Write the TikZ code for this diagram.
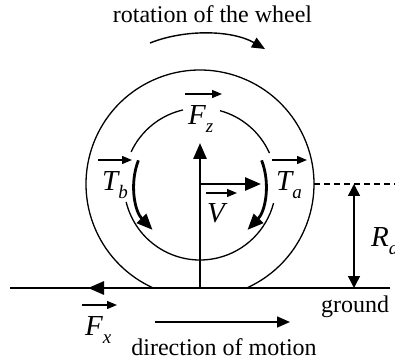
\documentclass[tikz,border=0pt]{standalone}
\usepackage{fontspec}
\setmainfont{Liberation Serif}
\usetikzlibrary{arrows.meta}
\newcommand\mysub[1]{\raisebox{-8pt}{\fontsize{19}{19}\selectfont #1}}
\begin{document}
\begin{tikzpicture}[x=1pt,y=1pt,
  thinline/.style={line width=1.3pt},
  thickarrow/.style={line width=2.8pt,-{Triangle[length=16pt,width=13pt]}},
  vec/.style={line width=1.3pt,-{Triangle[length=10pt,width=8pt]}},
  midarrow/.style={line width=1.4pt,-{Triangle[length=13pt,width=11pt]}},
  lab/.style={inner sep=0pt,anchor=base west,font=\fontsize{29}{29}\selectfont\itshape},
  txt/.style={inner sep=0pt,anchor=base,font=\fontsize{24}{24}\selectfont}]
\useasboundingbox (0,0) rectangle (395,361);
\clip (0,0) rectangle (395,361);
\coordinate (C) at (200,177);
% outer wheel
\draw[thinline] (C) ++(-65.8:114) arc[start angle=-65.8,end angle=245.8,radius=114];
% inner circle segments
\draw[thinline] (C) ++(24:76) arc[start angle=24,end angle=74.7,radius=76];
\draw[thinline] (C) ++(102.9:76) arc[start angle=102.9,end angle=155,radius=76];
\draw[thinline] (C) ++(193.7:76) arc[start angle=193.7,end angle=345.5,radius=76];
% curved torque arrows
\draw[thickarrow] (C) ++(159:66) arc[start angle=159,end angle=224,radius=66];
\draw[thickarrow] (C) ++(21:66) arc[start angle=21,end angle=-44,radius=66];
% ground
\coordinate (GL) at (10,73);
\coordinate (GR) at (390,73);
\coordinate (P) at (200,73);
\draw[thinline] (GL) -- (GR);
% forces
\coordinate (FzTip) at (200,218);
\coordinate (VTip) at (261,177);
\coordinate (FxTip) at (88,73);
\draw[thickarrow] (P) -- (FzTip);
\draw[thickarrow] (C) -- (VTip);
\draw[thickarrow] (P) -- (FxTip);
% dashed radius level
\coordinate (D1) at (314,177);
\coordinate (D2) at (395,177);
\draw[thinline,dash pattern=on 6pt off 4pt] (D1) -- (D2);
\coordinate (R1) at (354,177);
\coordinate (R2) at (354,73);
\draw[line width=1.5pt,{Triangle[length=12pt,width=12pt]}-{Triangle[length=12pt,width=12pt]}] (R1) -- (R2);
% rotation arrow
\coordinate (Ra) at (150,318);
\coordinate (Rb) at (265,312);
\draw[midarrow] (Ra) .. controls (185,332) and (232,331) .. (Rb);
% direction arrow
\coordinate (Da) at (155,39);
\coordinate (Db) at (290,39);
\draw[midarrow] (Da) -- (Db);
% texts
\node[txt] (rot) at (212.5,338) {rotation of the wheel};
\node[txt] (gr) at (355,49) {ground};
\node[txt] (dir) at (224,6) {direction of motion};
% labels
\node[lab] (Fz) at (188,236) {F\mysub{z}};
\draw[vec] (185,267) -- (222,267);
\node[lab] (V) at (207,138) {V};
\draw[vec] (206,168) -- (237,168);
\node[lab] (Tb) at (102,170) {T\mysub{b}};
\draw[vec] (98,201) -- (132,201);
\node[lab] (Ta) at (276,170) {T\mysub{a}};
\draw[vec] (272,201) -- (307,201);
\node[lab] (Fx) at (85,26) {F\mysub{x}};
\draw[vec] (82,56) -- (117,56);
\node[lab] (Rd) at (371,114) {R\mysub{d}};
\end{tikzpicture}
\end{document}
